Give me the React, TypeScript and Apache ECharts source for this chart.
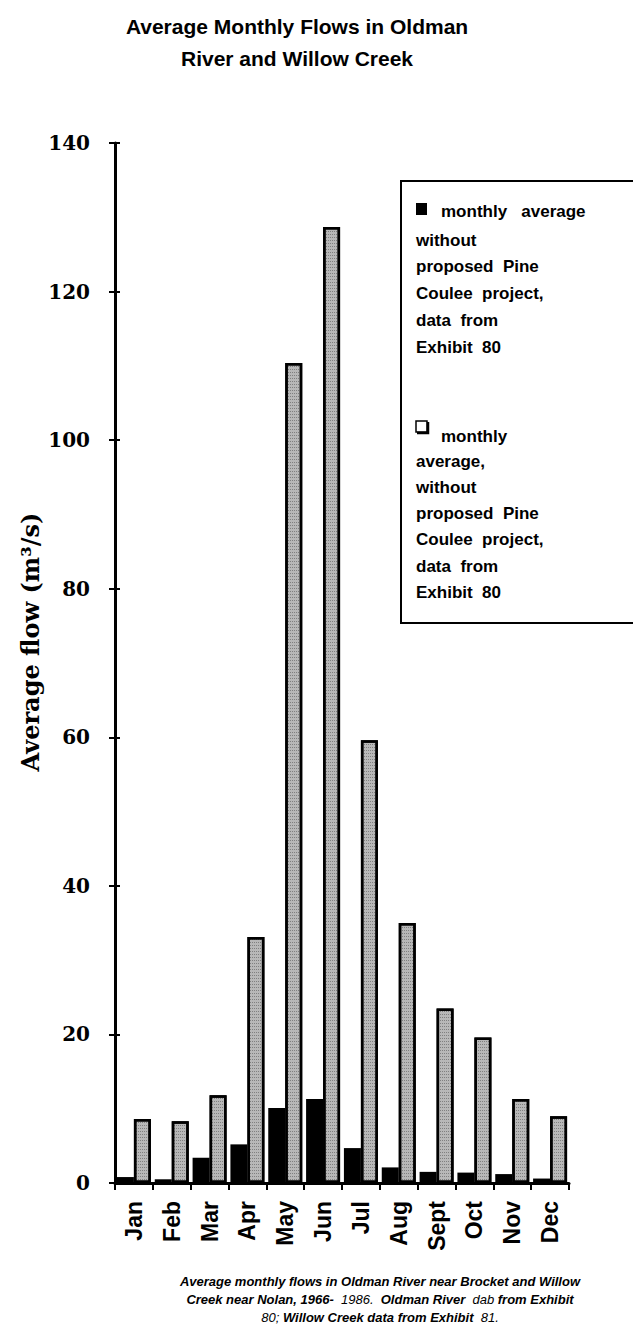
import React, { useEffect, useRef } from 'react';
import * as echarts from 'echarts';

const months = ['Jan', 'Feb', 'Mar', 'Apr', 'May', 'Jun', 'Jul', 'Aug', 'Sept', 'Oct', 'Nov', 'Dec'];
const blackSeries = [0.8, 0.5, 3.4, 5.2, 10.1, 11.3, 4.7, 2.1, 1.5, 1.4, 1.2, 0.6];
const greySeries = [8.6, 8.3, 11.8, 33.1, 110.4, 128.7, 59.6, 35.0, 23.5, 19.6, 11.3, 9.0];

const titleText = 'Average Monthly Flows in Oldman\nRiver and Willow Creek';
const yAxisTitle = 'Average flow (m³/s)';
const yMin = 0;
const yMax = 140;
const yStep = 20;

const legendA = ['monthly   average', 'without', 'proposed  Pine', 'Coulee  project,', 'data  from', 'Exhibit  80'];
const legendB = ['monthly', 'average,', 'without', 'proposed  Pine', 'Coulee  project,', 'data  from', 'Exhibit  80'];

const captionLines = [
  '{b|Average monthly flows in Oldman River near Brocket and Willow}',
  '{b|Creek near Nolan, 1966-}  {n|1986.}  {b|Oldman River}  {n|dab} {b|from Exhibit}',
  '{n|80;} {b|Willow Creek data from Exhibit}  {n|81.}',
];

const SANS = '"Liberation Sans", Arial, Helvetica, sans-serif';
const SERIF = '"DejaVu Serif", "Liberation Serif", serif';

export default function App() {
  const ref = useRef<HTMLDivElement>(null);
  useEffect(() => {
    document.body.style.margin = '0';
    const chart = echarts.init(ref.current as HTMLDivElement, null, { renderer: 'svg' });

    const legendTextStyle = { fontFamily: SANS, fontWeight: 'bold', fontSize: 17, fill: '#000' };
    const graphics: any[] = [
      {
        type: 'rect',
        shape: { x: 401, y: 181, width: 260, height: 442 },
        style: { fill: '#fff', stroke: '#000', lineWidth: 2 },
        z: 10,
      },
      { type: 'rect', shape: { x: 416, y: 203, width: 11, height: 12 }, style: { fill: '#000' }, z: 11 },
      { type: 'rect', shape: { x: 416, y: 421, width: 11, height: 11 }, style: { fill: '#fff', stroke: '#000', lineWidth: 1.5 }, z: 11 },
      { type: 'polyline', shape: { points: [[417, 433], [428, 433], [428, 422]] }, style: { stroke: '#000', lineWidth: 2.5, fill: null }, z: 11 },
    ];
    legendA.forEach((t, i) => {
      graphics.push({
        type: 'text', z: 11,
        x: i === 0 ? 441 : 416,
        y: i === 0 ? 211 : 240 + (i - 1) * 26.8,
        style: { ...legendTextStyle, text: t, align: 'left', verticalAlign: 'middle' },
      });
    });
    legendB.forEach((t, i) => {
      graphics.push({
        type: 'text', z: 11,
        x: i === 0 ? 441 : 416,
        y: i === 0 ? 436 : 461 + (i - 1) * 26.3,
        style: { ...legendTextStyle, text: t, align: 'left', verticalAlign: 'middle' },
      });
    });
    graphics.push({
      type: 'text',
      x: 30,
      y: 642,
      rotation: Math.PI / 2,
      style: {
        text: yAxisTitle,
        fontFamily: SERIF,
        fontWeight: 'bold',
        fontSize: 24,
        fill: '#000',
        align: 'center',
        verticalAlign: 'middle',
      },
    });
    graphics.push({
      type: 'text',
      x: 380,
      y: 1272,
      style: {
        text: captionLines.join('\n'),
        align: 'center',
        verticalAlign: 'top',
        fill: '#000',
        fontFamily: SANS,
        fontSize: 13,
        lineHeight: 18,
        rich: {
          b: { fontFamily: SANS, fontWeight: 'bold', fontStyle: 'italic', fontSize: 13, lineHeight: 18, fill: '#000' },
          n: { fontFamily: SANS, fontWeight: 'normal', fontStyle: 'italic', fontSize: 13, lineHeight: 18, fill: '#000' },
        },
      },
    });

    const option: any = {
      animation: false,
      backgroundColor: '#fff',
      title: {
        text: titleText,
        left: 292,
        top: 5,
        textAlign: 'center',
        textStyle: { fontFamily: SANS, fontWeight: 'bold', fontSize: 21, lineHeight: 32, color: '#000' },
      },
      grid: { left: 115, right: 64, top: 143, bottom: 150, containLabel: false },
      xAxis: {
        type: 'category',
        data: months,
        boundaryGap: true,
        axisLine: { lineStyle: { color: '#000', width: 3 } },
        axisTick: { show: true, interval: 0, length: 7, lineStyle: { color: '#000', width: 2 } },
        axisLabel: {
          interval: 0,
          rotate: 90,
          margin: 18,
          fontFamily: SANS,
          fontWeight: 'bold',
          fontSize: 23,
          color: '#000',
        },
        splitLine: { show: false },
      },
      yAxis: [
        {
          type: 'value',
          min: yMin,
          max: yMax,
          interval: yStep,
          axisLine: { show: true, lineStyle: { color: '#000', width: 3 } },
          axisTick: { show: true, length: 6, lineStyle: { color: '#000', width: 2 } },
          axisLabel: { margin: 25, fontFamily: SERIF, fontWeight: 'bold', fontSize: 20, color: '#000' },
          splitLine: { show: false },
        },
        {
          type: 'value',
          position: 'left',
          min: yMin,
          max: yMax,
          interval: yStep,
          axisLine: { show: false },
          axisTick: { show: true, inside: true, length: 5, lineStyle: { color: '#000', width: 2 } },
          axisLabel: { show: false },
          splitLine: { show: false },
        },
      ],
      series: [
        {
          name: 'Willow Creek',
          type: 'bar',
          data: blackSeries,
          barWidth: 17,
          barGap: '0%',
          itemStyle: { color: '#000' },
        },
        {
          name: 'Oldman River',
          type: 'bar',
          data: greySeries,
          barWidth: 17,
          barGap: '0%',
          itemStyle: {
            color: '#b8b8b8',
            borderColor: '#000',
            borderWidth: 2.5,
            decal: {
              symbol: 'rect',
              symbolSize: 1,
              dashArrayX: [1, 1],
              dashArrayY: [1, 2],
              color: 'rgba(0,0,0,0.3)',
            },
          },
        },
      ],
      graphic: graphics,
    };
    chart.setOption(option);
    return () => chart.dispose();
  }, []);
  return <div ref={ref} style={{ width: 633, height: 1333 }} />;
}
